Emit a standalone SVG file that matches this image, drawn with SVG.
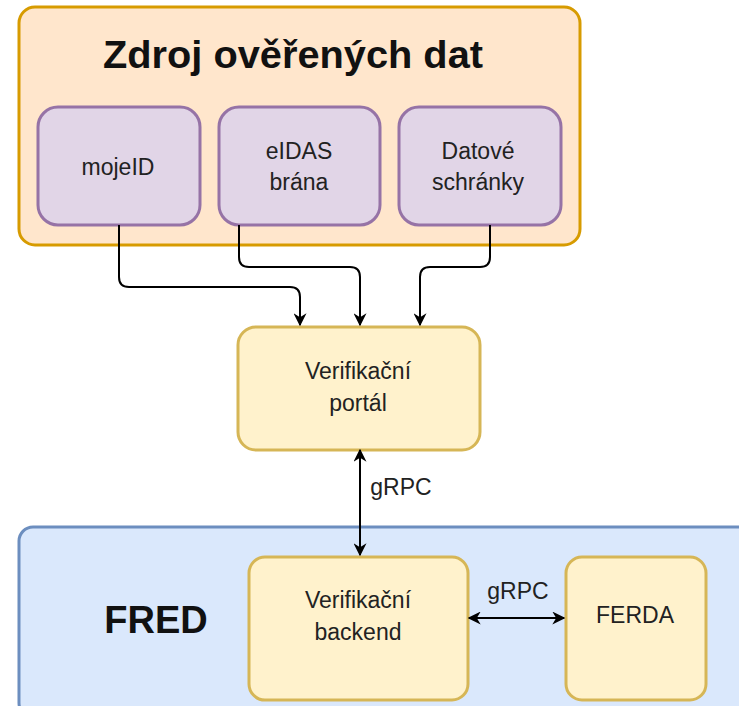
<svg xmlns="http://www.w3.org/2000/svg" width="739" height="706" viewBox="0 0 739 706">
<defs>
<style>
.t{font-family:"Liberation Sans",Arial,sans-serif;font-size:23px;fill:#222;text-anchor:middle}
.b{font-family:"Liberation Sans",Arial,sans-serif;font-weight:bold;fill:#111;text-anchor:middle}
.src{fill:#e1d5e7;stroke:#9673a6;stroke-width:3}
.y{fill:#fff2cc;stroke:#d6b656;stroke-width:3}
.c{fill:none;stroke:#000;stroke-width:2}
</style>
<marker id="a" viewBox="0 0 10 10" refX="9" refY="5" markerWidth="13" markerHeight="13" markerUnits="userSpaceOnUse" orient="auto-start-reverse">
<path d="M0,0 L10,5 L0,10 L3,5 Z" fill="#000"/>
</marker>
</defs>
<g id="zdroj">
<rect x="19" y="7" width="561" height="238" rx="16" fill="#ffe6cc" stroke="#d79b00" stroke-width="3"/>
<text class="b" x="293" y="68" font-size="38" textLength="380" lengthAdjust="spacingAndGlyphs">Zdroj ověřených dat</text>
</g>
<g id="fred">
<rect x="19" y="527" width="736" height="190" rx="14" fill="#dae8fc" stroke="#6c8ebf" stroke-width="3"/>
<text class="b" x="156" y="633" font-size="38">FRED</text>
</g>
<g id="mojeid">
<rect class="src" x="38" y="107" width="162" height="118" rx="20"/>
<text class="t" x="118" y="175">mojeID</text>
</g>
<g id="eidas">
<rect class="src" x="219" y="107" width="161" height="118" rx="20"/>
<text class="t" x="299" y="159">eIDAS</text>
<text class="t" x="299" y="190">brána</text>
</g>
<g id="datove">
<rect class="src" x="399" y="107" width="162" height="118" rx="20"/>
<text class="t" x="478" y="159">Datové</text>
<text class="t" x="478" y="190">schránky</text>
</g>
<g id="portal">
<rect class="y" x="238" y="327" width="242" height="123" rx="18"/>
<text class="t" x="358" y="379">Verifikační</text>
<text class="t" x="358" y="411">portál</text>
</g>
<g id="backend">
<rect class="y" x="249" y="557" width="219" height="143" rx="16"/>
<text class="t" x="358" y="608">Verifikační</text>
<text class="t" x="358" y="640">backend</text>
</g>
<g id="ferda">
<rect class="y" x="566" y="557" width="140" height="143" rx="16"/>
<text class="t" x="635" y="623">FERDA</text>
</g>
<g id="connectors">
<path class="c" d="M119,225 V277 Q119,287 129,287 H290 Q300,287 300,297 V325" marker-end="url(#a)"/>
<path class="c" d="M239,225 V257 Q239,267 249,267 H350 Q360,267 360,277 V325" marker-end="url(#a)"/>
<path class="c" d="M490,225 V257 Q490,267 480,267 H430 Q420,267 420,277 V325" marker-end="url(#a)"/>
<path class="c" d="M360,450 V555" marker-start="url(#a)" marker-end="url(#a)"/>
<path class="c" d="M469,618 H564" marker-start="url(#a)" marker-end="url(#a)"/>
<text class="t" x="401" y="495">gRPC</text>
<text class="t" x="518" y="599">gRPC</text>
</g>
</svg>
